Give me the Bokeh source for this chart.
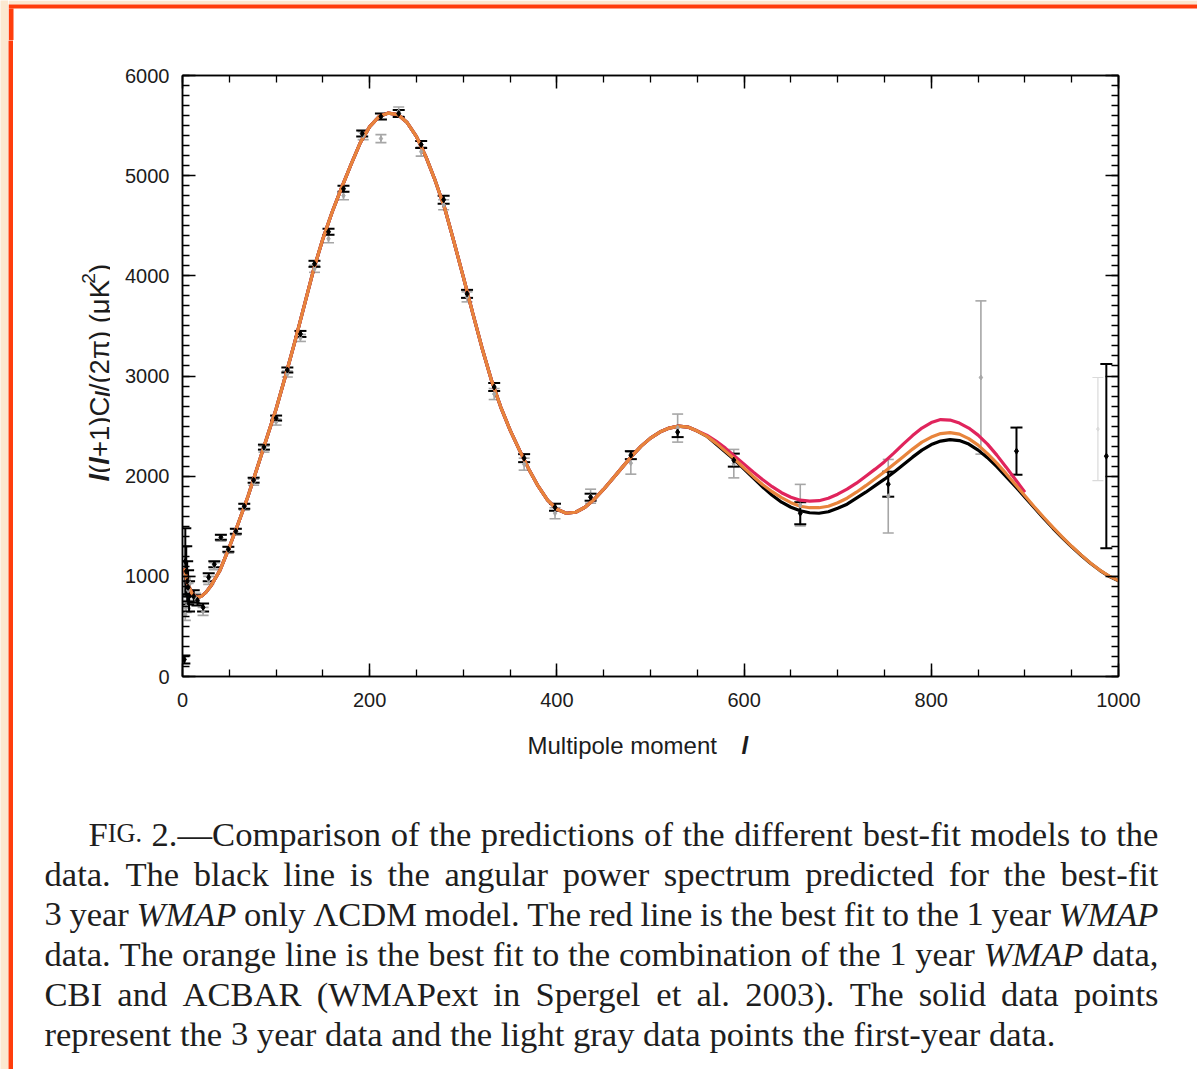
import math
from bokeh.plotting import figure
from bokeh.layouts import column, row
from bokeh.models import (ColumnDataSource, Whisker, TeeHead, LinearAxis, SingleIntervalTicker)
from bokeh.core.properties import value
from bokeh.embed import file_html
from bokeh.resources import INLINE

# ---------------- data ----------------
ell = [2, 5, 10, 15, 20, 25, 30] + list(range(40, 1001, 10))
cl_common = [1080, 940, 830, 790, 800, 840, 900,
             1060, 1290, 1540, 1800, 2090, 2380, 2670, 3000, 3340, 3700,
             4060, 4370, 4640, 4880, 5110, 5330, 5490, 5590, 5625, 5610,
             5530, 5390, 5190, 4950, 4680, 4340, 3990, 3630, 3280, 2960,
             2690, 2460, 2260, 2070, 1900, 1760, 1670, 1630, 1640, 1690,
             1770, 1870, 1980, 2090, 2200, 2300, 2380, 2440, 2480, 2500,
             2490, 2450]
black_tail = [2400, 2320, 2240, 2160, 2070, 1980, 1890, 1810, 1740, 1690,
              1655, 1635, 1630, 1645, 1680, 1720, 1780, 1840, 1905, 1970,
              2040, 2115, 2190, 2260, 2315, 2350, 2365, 2355, 2320, 2260,
              2185, 2095, 1995, 1895, 1790, 1685, 1580, 1480, 1385, 1295,
              1210, 1130, 1060, 1000, 955]
orange_tail = [2400, 2330, 2250, 2170, 2080, 1995, 1915, 1845, 1785, 1735,
               1700, 1685, 1685, 1700, 1735, 1780, 1840, 1905, 1975, 2045,
               2120, 2195, 2270, 2340, 2390, 2425, 2435, 2420, 2375, 2310,
               2225, 2130, 2025, 1915, 1805, 1695, 1590, 1488, 1392, 1300,
               1214, 1133, 1062, 1002, 957]
red_tail = [2410, 2350, 2280, 2200, 2120, 2040, 1965, 1895, 1835, 1790,
            1760, 1750, 1755, 1780, 1820, 1870, 1930, 2000, 2070, 2145,
            2230, 2320, 2405, 2480, 2535, 2565, 2560, 2530, 2480, 2410,
            2320, 2210, 2090, 1965, 1840]
cl_black = cl_common + black_tail
cl_orange = cl_common + orange_tail
cl_red = cl_common + red_tail
ell_red = ell[:len(cl_red)]

# 3-year data (black)
black_l = [2, 3, 4, 5, 6, 7, 12, 16, 22, 28,
           34, 41, 49, 57, 66, 76, 87, 100, 112, 126,
           141, 156, 172, 192, 212, 231, 255, 279, 304, 333,
           365, 398, 436, 479, 529, 589, 660, 754, 891, 987]
black_v = [170, 1150, 1050, 950, 890, 800, 800, 760, 690, 990,
           1120, 1390, 1270, 1450, 1700, 1960, 2290, 2580, 3060, 3420,
           4120, 4440, 4870, 5420, 5590, 5620, 5310, 4760, 3820, 2890,
           2180, 1690, 1790, 2210, 2440, 2160, 1630, 1920, 2250, 2200]
black_err = [40, 330, 250, 200, 170, 150, 60, 50, 40, 40,
             30, 25, 25, 25, 25, 25, 25, 25, 25, 30,
             30, 30, 30, 30, 30, 35, 35, 40, 40, 40,
             40, 35, 35, 40, 50, 65, 110, 125, 235, 920]
# first-year data (gray)
gray_l = [3, 4, 6, 8, 14, 22, 28, 34, 41, 49,
          57, 66, 76, 87, 100, 112, 126, 141, 156, 172,
          193, 212, 231, 255, 279, 304, 333, 365, 398, 436,
          479, 529, 589, 660, 754, 853]
gray_v = [620, 700, 860, 930, 780, 650, 960, 1100, 1380, 1260,
          1440, 1690, 1940, 2270, 2540, 3020, 3380, 4070, 4370, 4800,
          5400, 5370, 5640, 5240, 4710, 3790, 2820, 2120, 1630, 1800,
          2130, 2480, 2125, 1710, 1800, 2985]
gray_err = [60, 60, 70, 70, 50, 40, 40, 35, 30, 30,
            30, 30, 30, 30, 30, 30, 35, 35, 40, 40,
            40, 40, 45, 45, 50, 50, 55, 60, 55, 70,
            110, 140, 142, 208, 367, 765]
faint_l = [978]
faint_v = [2470]
faint_err = [515]

x_ticks_major = 200
y_ticks_major = 1000

caption = [
    ["FIG.", "2.—Comparison", "of", "the", "predictions", "of", "the", "different", "best-fit", "models", "to", "the"],
    "data. The black line is the angular power spectrum predicted for the best-fit".split(),
    ["3", "year", "_WMAP", "only", "ΛCDM", "model.", "The", "red", "line", "is", "the", "best", "fit", "to", "the", "1", "year", "_WMAP"],
    "data. The orange line is the best fit to the combination of the 1 year _WMAP data,".split(),
    "CBI and ACBAR (WMAPext in Spergel et al. 2003). The solid data points".split(),
    "represent the 3 year data and the light gray data points the first-year data.".split(),
]

# ---------------- page geometry ----------------
W, H = 1197, 1069
FL, FR, FT, FB = 182, 1118, 75, 676     # plot frame on the page
BX, SX = 8, 13                          # beige margin / end of orange rule (x)
TOPH = 40                               # height of the top band panel
YPX = 110                               # right edge of the y-title panel
MAIN_BOTTOM = 726                       # page y where the main row ends
BEIGE, ORANGE = "#fce8d0", "#ff3d0c"


def filler(width, height, color):
    f = figure(width=width, height=height, output_backend="svg", toolbar_location=None,
               title=None, min_border=0, x_axis_location=None, y_axis_location=None,
               background_fill_color=color, border_fill_color=color, outline_line_color=None)
    f.xgrid.visible = False
    f.ygrid.visible = False
    return f


def blank(width, height, xr, yr, **kw):
    f = figure(width=width, height=height, x_range=xr, y_range=yr,
               output_backend="svg", toolbar_location=None, title=None,
               x_axis_location=None, y_axis_location=None,
               background_fill_color="white", border_fill_color="white",
               outline_line_color=None, **kw)
    f.xgrid.visible = False
    f.ygrid.visible = False
    return f


# ---------------- top band (beige margin + orange rule) ----------------
ftop = blank(W - BX, TOPH, (BX, W), (TOPH, 0), min_border=0)
ftop.quad(left=[BX, BX, BX], right=[W, W, SX], top=[0, 4, 8], bottom=[4, 8, TOPH],
          fill_color=[BEIGE, ORANGE, ORANGE], line_color=None)

# ---------------- main plot ----------------
p = figure(width=W - YPX, height=MAIN_BOTTOM - TOPH, x_range=(0, 1000), y_range=(0, 6000),
           output_backend="svg", toolbar_location=None, title=None,
           min_border_left=FL - YPX, min_border_right=W - FR, min_border_top=FT - TOPH,
           min_border_bottom=MAIN_BOTTOM - FB,
           background_fill_color="white", border_fill_color="white",
           outline_line_color="black", outline_line_width=1.5)
p.xgrid.visible = False
p.ygrid.visible = False


def style_axis(ax, show_labels, ticks):
    ax.axis_line_color = "black"
    ax.axis_line_width = 1.5
    ax.major_tick_line_color = "black"
    ax.minor_tick_line_color = "black"
    ax.major_tick_line_width = 1.5
    ax.minor_tick_line_width = 1.3
    ax.major_tick_out = 0
    ax.minor_tick_out = 0
    ax.major_tick_in = 13
    ax.minor_tick_in = 7
    ax.major_label_text_font = "Liberation Sans"
    ax.major_label_text_font_size = "20px"
    ax.major_label_text_color = "#1c1c1c"
    if not show_labels:
        ax.major_label_overrides = {t: "" for t in ticks}
        ax.major_label_text_font_size = "1px"
        ax.major_label_standoff = 0


x_tick_vals = list(range(0, 1001, x_ticks_major))
y_tick_vals = list(range(0, 6001, y_ticks_major))
p.xaxis.ticker = SingleIntervalTicker(interval=x_ticks_major, num_minor_ticks=4)
p.yaxis.ticker = SingleIntervalTicker(interval=y_ticks_major, num_minor_ticks=10)
style_axis(p.xaxis[0], True, x_tick_vals)
style_axis(p.yaxis[0], True, y_tick_vals)
p.xaxis.major_label_standoff = 16
p.yaxis.major_label_standoff = 13

top_ax = LinearAxis(ticker=SingleIntervalTicker(interval=x_ticks_major, num_minor_ticks=4))
right_ax = LinearAxis(ticker=SingleIntervalTicker(interval=y_ticks_major, num_minor_ticks=10))
style_axis(top_ax, False, x_tick_vals)
style_axis(right_ax, False, y_tick_vals)
p.add_layout(top_ax, "above")
p.add_layout(right_ax, "right")

p.line(ell, cl_black, line_color="black", line_width=3.2)
p.line(ell_red, cl_red, line_color="#e0245c", line_width=3.2)
p.line(ell, cl_orange, line_color="#e8843c", line_width=3.2)


def add_points(ls, vs, es, color, lw, cap, msize):
    src = ColumnDataSource(dict(l=ls, v=vs, lo=[v - e for v, e in zip(vs, es)],
                                hi=[v + e for v, e in zip(vs, es)]))
    w = Whisker(source=src, base="l", lower="lo", upper="hi", dimension="height",
                line_color=color, line_width=lw,
                upper_head=TeeHead(size=cap, line_color=color, line_width=lw),
                lower_head=TeeHead(size=cap, line_color=color, line_width=lw))
    p.add_layout(w)
    p.scatter("l", "v", source=src, marker="diamond", size=msize, color=color)


add_points(faint_l, faint_v, faint_err, "#dadada", 1.2, 11, 4)
add_points(gray_l, gray_v, gray_err, "#a6a6a6", 1.6, 11, 5)
add_points(black_l, black_v, black_err, "black", 2.0, 12, 6)

# ---------------- y title panel (frame aligned with the main frame) ----------------
fy = blank(YPX - SX, MAIN_BOTTOM - TOPH, (SX, YPX), (FB, FT),
           min_border_left=0, min_border_right=0,
           min_border_top=FT - TOPH, min_border_bottom=MAIN_BOTTOM - FB)

HV = {'l': 222, '(': 333, ')': 333, '+': 584, '1': 556, 'C': 722, '/': 278, '2': 556,
      'π': 556, ' ': 278, 'μ': 576, 'K': 667}
ylab_pieces = [("l", "bold italic", 1.0, 0.0, 278), ("(", "normal", 1.0, 0.0, None),
               ("l", "bold italic", 1.0, 0.0, 278), ("+1)C", "normal", 1.0, 0.0, None),
               ("l", "bold italic", 0.72, 0.14, 278), ("/(2π) (μK", "normal", 1.0, 0.0, None),
               ("2", "normal", 0.7, -0.4, None), (")", "normal", 1.0, 0.0, None)]
YS = 27.5
ypos = 481.0
base_x = 99.0
for txt, st, fac, shift, wfix in ylab_pieces:
    fs = YS * fac
    fy.text(x=[base_x + shift * YS], y=[ypos], text=[txt], angle=math.pi / 2,
            text_font=value("Liberation Sans"), text_font_size=value(f"{fs:.1f}px"),
            text_font_style=value(st), text_color="#1c1c1c",
            text_align="left", text_baseline="alphabetic")
    wunits = wfix if wfix is not None else sum(HV.get(c, 556) for c in txt)
    ypos -= wunits * fs / 1000.0

# ---------------- caption panel ----------------
fc = blank(W - SX, H - MAIN_BOTTOM, (SX, W), (H, MAIN_BOTTOM), min_border=0)

fc.text(x=[527], y=[745], text=["Multipole moment"], text_font=value("Liberation Sans"),
        text_font_size=value("24px"), text_color="#1c1c1c", text_baseline="alphabetic")
fc.text(x=[741], y=[745], text=["l"], text_font=value("Liberation Sans"),
        text_font_size=value("24px"), text_font_style=value("bold italic"),
        text_color="#1c1c1c", text_baseline="alphabetic")

TR = dict(zip("abcdefghijklmnopqrstuvwxyz",
              [444, 500, 444, 500, 444, 333, 500, 500, 278, 278, 500, 278, 778, 500, 500, 500, 500,
               333, 389, 278, 500, 500, 722, 500, 500, 444]))
TR.update(zip("ABCDEFGHIJKLMNOPQRSTUVWXYZ",
              [722, 667, 667, 722, 611, 556, 722, 722, 333, 389, 722, 611, 889, 722, 722, 556, 722,
               667, 556, 611, 722, 722, 944, 722, 722, 611]))
TR.update({c: 500 for c in "0123456789"})
TR.update({' ': 250, '.': 250, ',': 250, '-': 333, '(': 333, ')': 333, '—': 1000, 'Λ': 722})
TI = {'W': 833, 'M': 833, 'A': 611, 'P': 611}

CFS = 34.6
SC = 0.76
rom = dict(x=[], y=[], text=[])
sml = dict(x=[], y=[], text=[])
ita = dict(x=[], y=[], text=[])


def segs(word):
    if word == "FIG.":
        return [("F", rom, 1.0, TR), ("IG.", sml, SC, TR)]
    if word.startswith("_"):
        return [(word[1:], ita, 1.0, TI)]
    return [(word, rom, 1.0, TR)]


def seg_w(t, fac, tab):
    return sum(tab.get(c, TR.get(c, 500)) for c in t) * CFS * fac / 1000.0


for i, words in enumerate(caption):
    x0 = 88.0 if i == 0 else 44.0
    right = 1158.0
    base = 833.0 + 40.0 * i
    widths = [sum(seg_w(t, f, tb) for t, d, f, tb in segs(w)) for w in words]
    if i == len(caption) - 1:
        gap = 0.25 * CFS
    else:
        gap = (right - x0 - sum(widths)) / (len(words) - 1)
    x = x0
    for w, ww in zip(words, widths):
        xx = x
        for t, d, f, tb in segs(w):
            d["x"].append(xx)
            d["y"].append(base)
            d["text"].append(t)
            xx += seg_w(t, f, tb)
        x += ww + gap

for d, fs, st in ((rom, CFS, "normal"), (sml, CFS * SC, "normal"), (ita, CFS, "italic")):
    fc.text(x="x", y="y", text="text", source=ColumnDataSource(d),
            text_font=value("Liberation Serif"), text_font_size=value(f"{fs:.1f}px"),
            text_font_style=value(st), text_color="#1e1e1e",
            text_baseline="alphabetic", text_align="left")

# ---------------- page assembly ----------------
inner = column(row(fy, p, spacing=0), fc, spacing=0)
body = row(filler(SX - BX, H - TOPH, ORANGE), inner, spacing=0)
right_part = column(ftop, body, spacing=0)
layout = row(filler(BX, H, BEIGE), right_part, spacing=0)
open("out.html", "w").write(file_html(layout, INLINE))
